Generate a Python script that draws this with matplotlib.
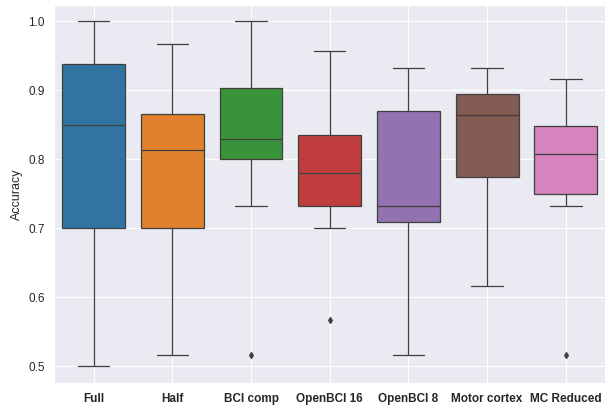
import matplotlib
matplotlib.use("Agg")
import matplotlib.pyplot as plt
import seaborn as sns

sns.set_style("darkgrid")
plt.rcParams["font.family"] = ["Liberation Sans", "DejaVu Sans"]

configs = ["Full", "Half", "BCI comp", "OpenBCI 16", "OpenBCI 8", "Motor cortex", "MC Reduced"]
whis_low = [0.500, 0.517, 0.733, 0.700, 0.517, 0.617, 0.733]
q1 = [0.700, 0.700, 0.800, 0.733, 0.709, 0.775, 0.750]
medians = [0.850, 0.813, 0.830, 0.780, 0.733, 0.865, 0.808]
q3 = [0.938, 0.866, 0.903, 0.835, 0.870, 0.895, 0.848]
whis_high = [1.000, 0.967, 1.000, 0.957, 0.933, 0.933, 0.917]
outliers = [[], [], [0.517], [0.567], [], [], [0.517]]

palette = sns.color_palette("tab10")
line_col = "#3f3f3f"

stats = []
for i, name in enumerate(configs):
    stats.append({
        "label": name,
        "whislo": whis_low[i], "q1": q1[i], "med": medians[i],
        "q3": q3[i], "whishi": whis_high[i], "fliers": outliers[i],
    })

fig, ax = plt.subplots(figsize=(6.1, 4.07), dpi=100)
bp = ax.bxp(stats, positions=range(len(configs)), widths=0.8, patch_artist=True,
            boxprops=dict(edgecolor=line_col, linewidth=0.9),
            medianprops=dict(color=line_col, linewidth=0.9),
            whiskerprops=dict(color=line_col, linewidth=0.9),
            capprops=dict(color=line_col, linewidth=0.9),
            flierprops=dict(marker="d", markersize=3, markerfacecolor=line_col,
                            markeredgecolor=line_col))
for patch, col in zip(bp["boxes"], palette):
    patch.set_facecolor(sns.desaturate(col, 0.75))

# cap width similar to seaborn (half of box width)
for cap in bp["caps"]:
    xs = cap.get_xdata()
    c = (xs[0] + xs[1]) / 2
    cap.set_xdata([c - 0.2, c + 0.2])

ax.grid(color="white", linewidth=0.8)
ax.set_xlim(-0.5, len(configs) - 0.5)
ax.set_ylim(0.476, 1.024)
ax.set_yticks([0.5, 0.6, 0.7, 0.8, 0.9, 1.0])
ax.set_xticks(range(len(configs)))
ax.set_xticklabels(configs, fontweight="bold", fontsize=8.5)
ax.tick_params(axis="y", labelsize=8.5)
ax.set_ylabel("Accuracy", fontsize=9)

fig.subplots_adjust(left=0.089, right=0.992, top=0.988, bottom=0.059)
fig.savefig("out.png", dpi=100)
